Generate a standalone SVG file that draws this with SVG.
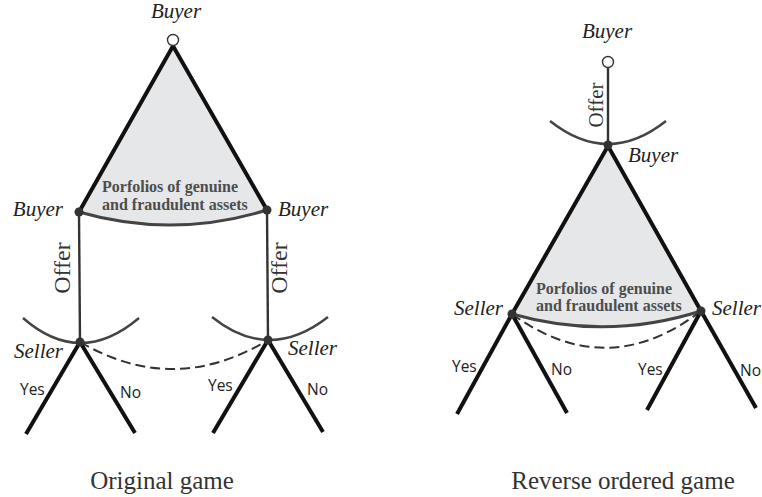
<svg xmlns="http://www.w3.org/2000/svg" width="762" height="497" viewBox="0 0 762 497">
<style>
.lbl{font-family:"Liberation Serif",serif;font-style:italic;font-size:21px;fill:#222}
.off{font-family:"Liberation Serif",serif;font-size:24px;fill:#333}
.yn{font-family:"Open Sans","Noto Sans",sans-serif;font-size:15.5px;fill:#222}
.port{font-family:"Liberation Serif",serif;font-weight:bold;font-size:16px;fill:#4d4d4d}
.cap{font-family:"Liberation Serif",serif;font-size:25px;fill:#333}
.tri{fill:#e6e7e8;stroke:none}
.side{fill:none;stroke:#111;stroke-width:4;stroke-linecap:round}
.base{fill:none;stroke:#444;stroke-width:3}
.stem{fill:none;stroke:#333;stroke-width:2.4}
.arc{fill:none;stroke:#444;stroke-width:2.4}
.dash{fill:none;stroke:#333;stroke-width:2;stroke-dasharray:10 5}
.br{fill:none;stroke:#111;stroke-width:4}
.dot{fill:#333}
.open{fill:#fff;stroke:#333;stroke-width:1.4}
</style>

<g id="left-info-set">
<path class="tri" d="M173,46 L79,212 Q173,239 267,210 Z"/>
<path class="side" d="M79,212 L173,46 L267,210"/>
<path class="base" d="M79,212 Q173,239 267,210"/>
<text class="port" x="102" y="192">Porfolios of genuine</text>
<text class="port" x="102" y="210">and fraudulent assets</text>
</g>

<g id="connectors">
<line class="stem" x1="79" y1="212" x2="80" y2="342"/>
<line class="stem" x1="267" y1="210" x2="268" y2="340"/>
<path class="arc" d="M23,318 Q80,368 139,318"/>
<path class="arc" d="M212,317 Q269,363 328,317"/>
<path class="dash" d="M80,342 Q174,397 268,340"/>
<line class="br" x1="80" y1="342" x2="26" y2="434"/>
<line class="br" x1="80" y1="342" x2="135" y2="433"/>
<line class="br" x1="268" y1="340" x2="213" y2="433"/>
<line class="br" x1="268" y1="340" x2="323" y2="432"/>
<text class="off" transform="translate(70,268) rotate(-90)" text-anchor="middle">Offer</text>
<text class="off" transform="translate(287,268) rotate(-90)" text-anchor="middle">Offer</text>
<text class="yn" x="20" y="395">Yes</text>
<text class="yn" x="120" y="398">No</text>
<text class="yn" x="208" y="391">Yes</text>
<text class="yn" x="307" y="395">No</text>

<line class="stem" x1="608" y1="68" x2="608" y2="144"/>
<path class="arc" d="M550,121 Q608,167 666,121"/>
<path class="dash" d="M512,314 Q607,383 701,311"/>
<line class="br" x1="512" y1="314" x2="457" y2="414"/>
<line class="br" x1="512" y1="314" x2="567" y2="413"/>
<line class="br" x1="701" y1="311" x2="647" y2="410"/>
<line class="br" x1="701" y1="311" x2="756" y2="408"/>
<text class="off" style="font-size:21px" transform="translate(603,105) rotate(-90)" text-anchor="middle">Offer</text>
<text class="yn" x="452" y="372">Yes</text>
<text class="yn" x="551" y="375">No</text>
<text class="yn" x="638" y="375">Yes</text>
<text class="yn" x="740" y="376">No</text>
</g>

<g id="right-info-set">
<path class="tri" d="M608,146 L512,314 Q607,341 701,311 Z"/>
<path class="side" d="M512,314 L608,146 L701,311"/>
<path class="base" d="M512,314 Q607,341 701,311"/>
<text class="port" x="536" y="294">Porfolios of genuine</text>
<text class="port" x="536" y="311">and fraudulent assets</text>
</g>

<g id="L-root">
<circle class="open" cx="173" cy="40" r="5.5"/>
<text class="lbl" x="176" y="18" text-anchor="middle">Buyer</text>
</g>
<g id="L-buyer1">
<circle class="dot" cx="79" cy="212" r="4.5"/>
<text class="lbl" x="63" y="216" text-anchor="end">Buyer</text>
</g>
<g id="L-buyer2">
<circle class="dot" cx="267" cy="210" r="4.5"/>
<text class="lbl" x="278" y="216">Buyer</text>
</g>
<g id="L-seller1">
<circle class="dot" cx="80" cy="342" r="4.5"/>
<text class="lbl" x="63" y="358" text-anchor="end">Seller</text>
</g>
<g id="L-seller2">
<circle class="dot" cx="268" cy="340" r="4.5"/>
<text class="lbl" x="288" y="355">Seller</text>
</g>

<g id="R-root">
<circle class="open" cx="608" cy="62" r="5.5"/>
<text class="lbl" x="607" y="38" text-anchor="middle">Buyer</text>
</g>
<g id="R-buyer">
<circle class="dot" cx="608" cy="145" r="4.5"/>
<text class="lbl" x="628" y="162">Buyer</text>
</g>
<g id="R-seller1">
<circle class="dot" cx="512" cy="314" r="4.5"/>
<text class="lbl" x="503" y="315" text-anchor="end">Seller</text>
</g>
<g id="R-seller2">
<circle class="dot" cx="701" cy="311" r="4.5"/>
<text class="lbl" x="712" y="315">Seller</text>
</g>

<g id="captions">
<text class="cap" x="162" y="489" text-anchor="middle">Original game</text>
<text class="cap" x="623" y="489" text-anchor="middle">Reverse ordered game</text>
</g>
</svg>
